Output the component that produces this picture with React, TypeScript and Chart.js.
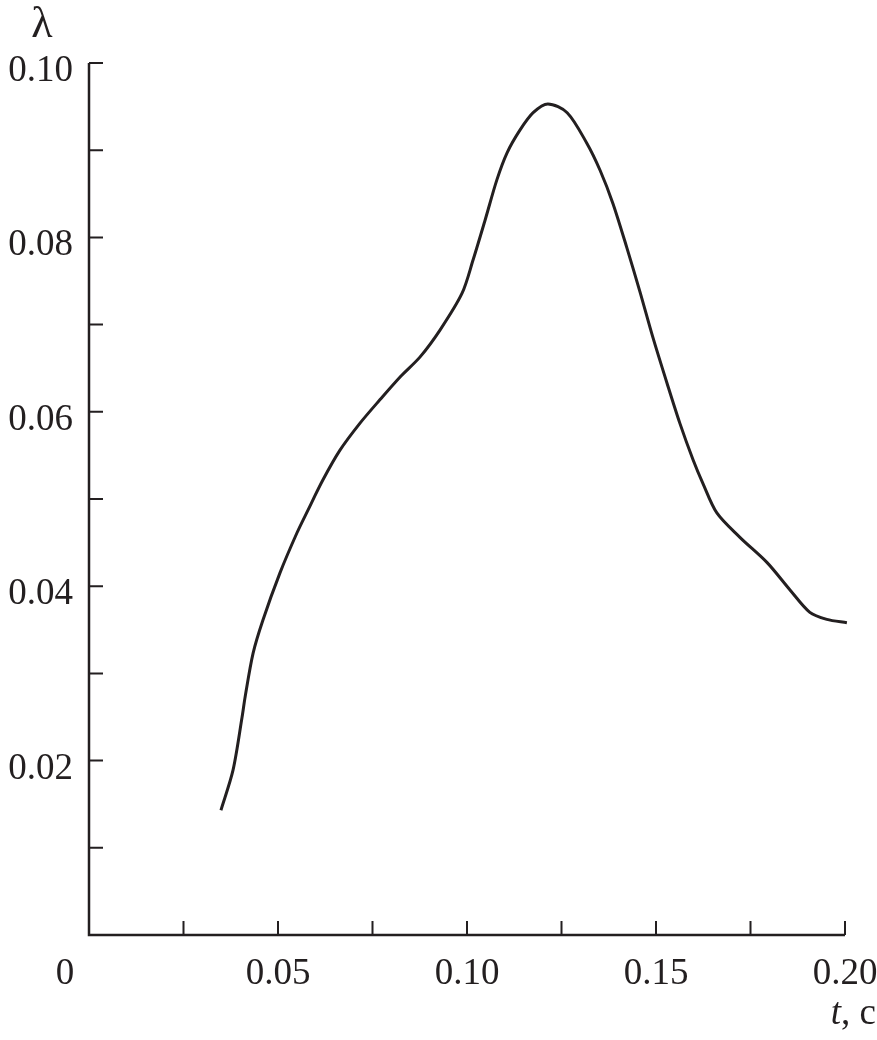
import React, { useEffect, useRef } from "react";
import { Chart, registerables } from "chart.js";

Chart.register(...registerables);

const tValues = [
  0.0349, 0.0381, 0.0405, 0.0413, 0.0434, 0.046, 0.0505, 0.055, 0.0579, 0.0619,
  0.0664, 0.0717, 0.077, 0.0823, 0.0876, 0.0929, 0.0987, 0.1016, 0.1048, 0.1079,
  0.1106, 0.114, 0.1175, 0.1214, 0.1265, 0.1317, 0.1352, 0.1386, 0.1423, 0.1458,
  0.1492, 0.1529, 0.1563, 0.1598, 0.1624, 0.1661, 0.1722, 0.1794, 0.1854, 0.1907,
  0.1952, 0.2005,
];
const lambdaValues = [
  0.0143, 0.0189, 0.025, 0.0273, 0.0323, 0.0361, 0.0415, 0.0461, 0.0487, 0.0522,
  0.0556, 0.0587, 0.0614, 0.064, 0.0663, 0.0694, 0.0736, 0.0774, 0.082, 0.0866,
  0.0897, 0.0923, 0.0943, 0.0953, 0.0943, 0.0908, 0.0877, 0.0839, 0.0788, 0.0737,
  0.0685, 0.0633, 0.0587, 0.0545, 0.0518, 0.0484, 0.0456, 0.0427, 0.0396, 0.037,
  0.0362, 0.0358,
];

const xTicks = [0, 0.025, 0.05, 0.075, 0.1, 0.125, 0.15, 0.175, 0.2];
const xLabelValues = [0, 0.05, 0.1, 0.15, 0.2];
const xLabels = ["0", "0.05", "0.10", "0.15", "0.20"];
const yTicks = [0.01, 0.02, 0.03, 0.04, 0.05, 0.06, 0.07, 0.08, 0.09, 0.1];
const yLabelValues = [0.02, 0.04, 0.06, 0.08, 0.1];
const yLabels = ["0.02", "0.04", "0.06", "0.08", "0.10"];
const yAxisTitle = "λ";
const xAxisTitleItalic = "t";
const xAxisTitleRest = ", c";

const INK = "#231f20";
const FONT = '"Liberation Serif", "Times New Roman", serif';

const axesPlugin = {
  id: "customAxes",
  afterDatasetsDraw(chart: any) {
    const ctx = chart.ctx;
    const xs = chart.scales.x;
    const ys = chart.scales.y;
    const x0 = xs.getPixelForValue(0);
    const x1 = xs.getPixelForValue(0.2);
    const y0 = ys.getPixelForValue(0);
    const y1 = ys.getPixelForValue(0.1);
    ctx.save();
    ctx.strokeStyle = INK;
    ctx.lineWidth = 2.5;
    ctx.lineCap = "butt";
    ctx.beginPath();
    ctx.moveTo(x0, y1);
    ctx.lineTo(x0, y0);
    ctx.lineTo(x1, y0);
    ctx.stroke();
    const tl = 14;
    ctx.lineWidth = 2;
    ctx.beginPath();
    xTicks.forEach((v) => {
      if (v === 0) return;
      const px = xs.getPixelForValue(v);
      ctx.moveTo(px, y0);
      ctx.lineTo(px, y0 - tl);
    });
    yTicks.forEach((v) => {
      const py = ys.getPixelForValue(v);
      ctx.moveTo(x0, py);
      ctx.lineTo(x0 + tl, py);
    });
    ctx.stroke();

    ctx.fillStyle = INK;
    ctx.font = `37px ${FONT}`;
    ctx.textBaseline = "alphabetic";
    ctx.textAlign = "right";
    yLabelValues.forEach((v, i) => {
      const py = ys.getPixelForValue(v);
      ctx.fillText(yLabels[i], x0 - 16, py + 18);
    });
    ctx.textAlign = "center";
    xLabelValues.forEach((v, i) => {
      let px = xs.getPixelForValue(v);
      if (v === 0) px -= 24;
      ctx.fillText(xLabels[i], px, y0 + 49);
    });
    ctx.font = `44px ${FONT}`;
    ctx.fillText(yAxisTitle, x0 - 47, y1 - 26);

    ctx.textAlign = "left";
    ctx.font = `italic 37px ${FONT}`;
    const wt = ctx.measureText(xAxisTitleItalic).width;
    ctx.font = `37px ${FONT}`;
    const wr = ctx.measureText(xAxisTitleRest).width;
    const right = 876;
    const startX = right - wr - wt;
    ctx.font = `italic 37px ${FONT}`;
    ctx.fillText(xAxisTitleItalic, startX, y0 + 89);
    ctx.font = `37px ${FONT}`;
    ctx.fillText(xAxisTitleRest, startX + wt, y0 + 89);
    ctx.restore();
  },
};

export default function App() {
  const ref = useRef<HTMLCanvasElement | null>(null);
  useEffect(() => {
    document.body.style.margin = "0";
    const canvas = ref.current;
    if (!canvas) return;
    const chart = new Chart(canvas, {
      type: "line",
      data: {
        datasets: [
          {
            data: tValues.map((t, i) => ({ x: t, y: lambdaValues[i] })),
            borderColor: INK,
            borderWidth: 3,
            pointRadius: 0,
            tension: 0.3,
            fill: false,
            clip: false as any,
          },
        ],
      },
      options: {
        responsive: false,
        animation: false,
        devicePixelRatio: 1,
        layout: { padding: { left: 89, right: 32, top: 63, bottom: 105 } },
        plugins: { legend: { display: false }, tooltip: { enabled: false } },
        scales: {
          x: { type: "linear", min: 0, max: 0.2, display: false },
          y: { type: "linear", min: 0, max: 0.1, display: false },
        },
      },
      plugins: [axesPlugin],
    });
    return () => chart.destroy();
  }, []);
  return (
    <div style={{ width: 877, height: 1040, background: "#fff" }}>
      <canvas ref={ref} width={877} height={1040} style={{ display: "block" }} />
    </div>
  );
}
